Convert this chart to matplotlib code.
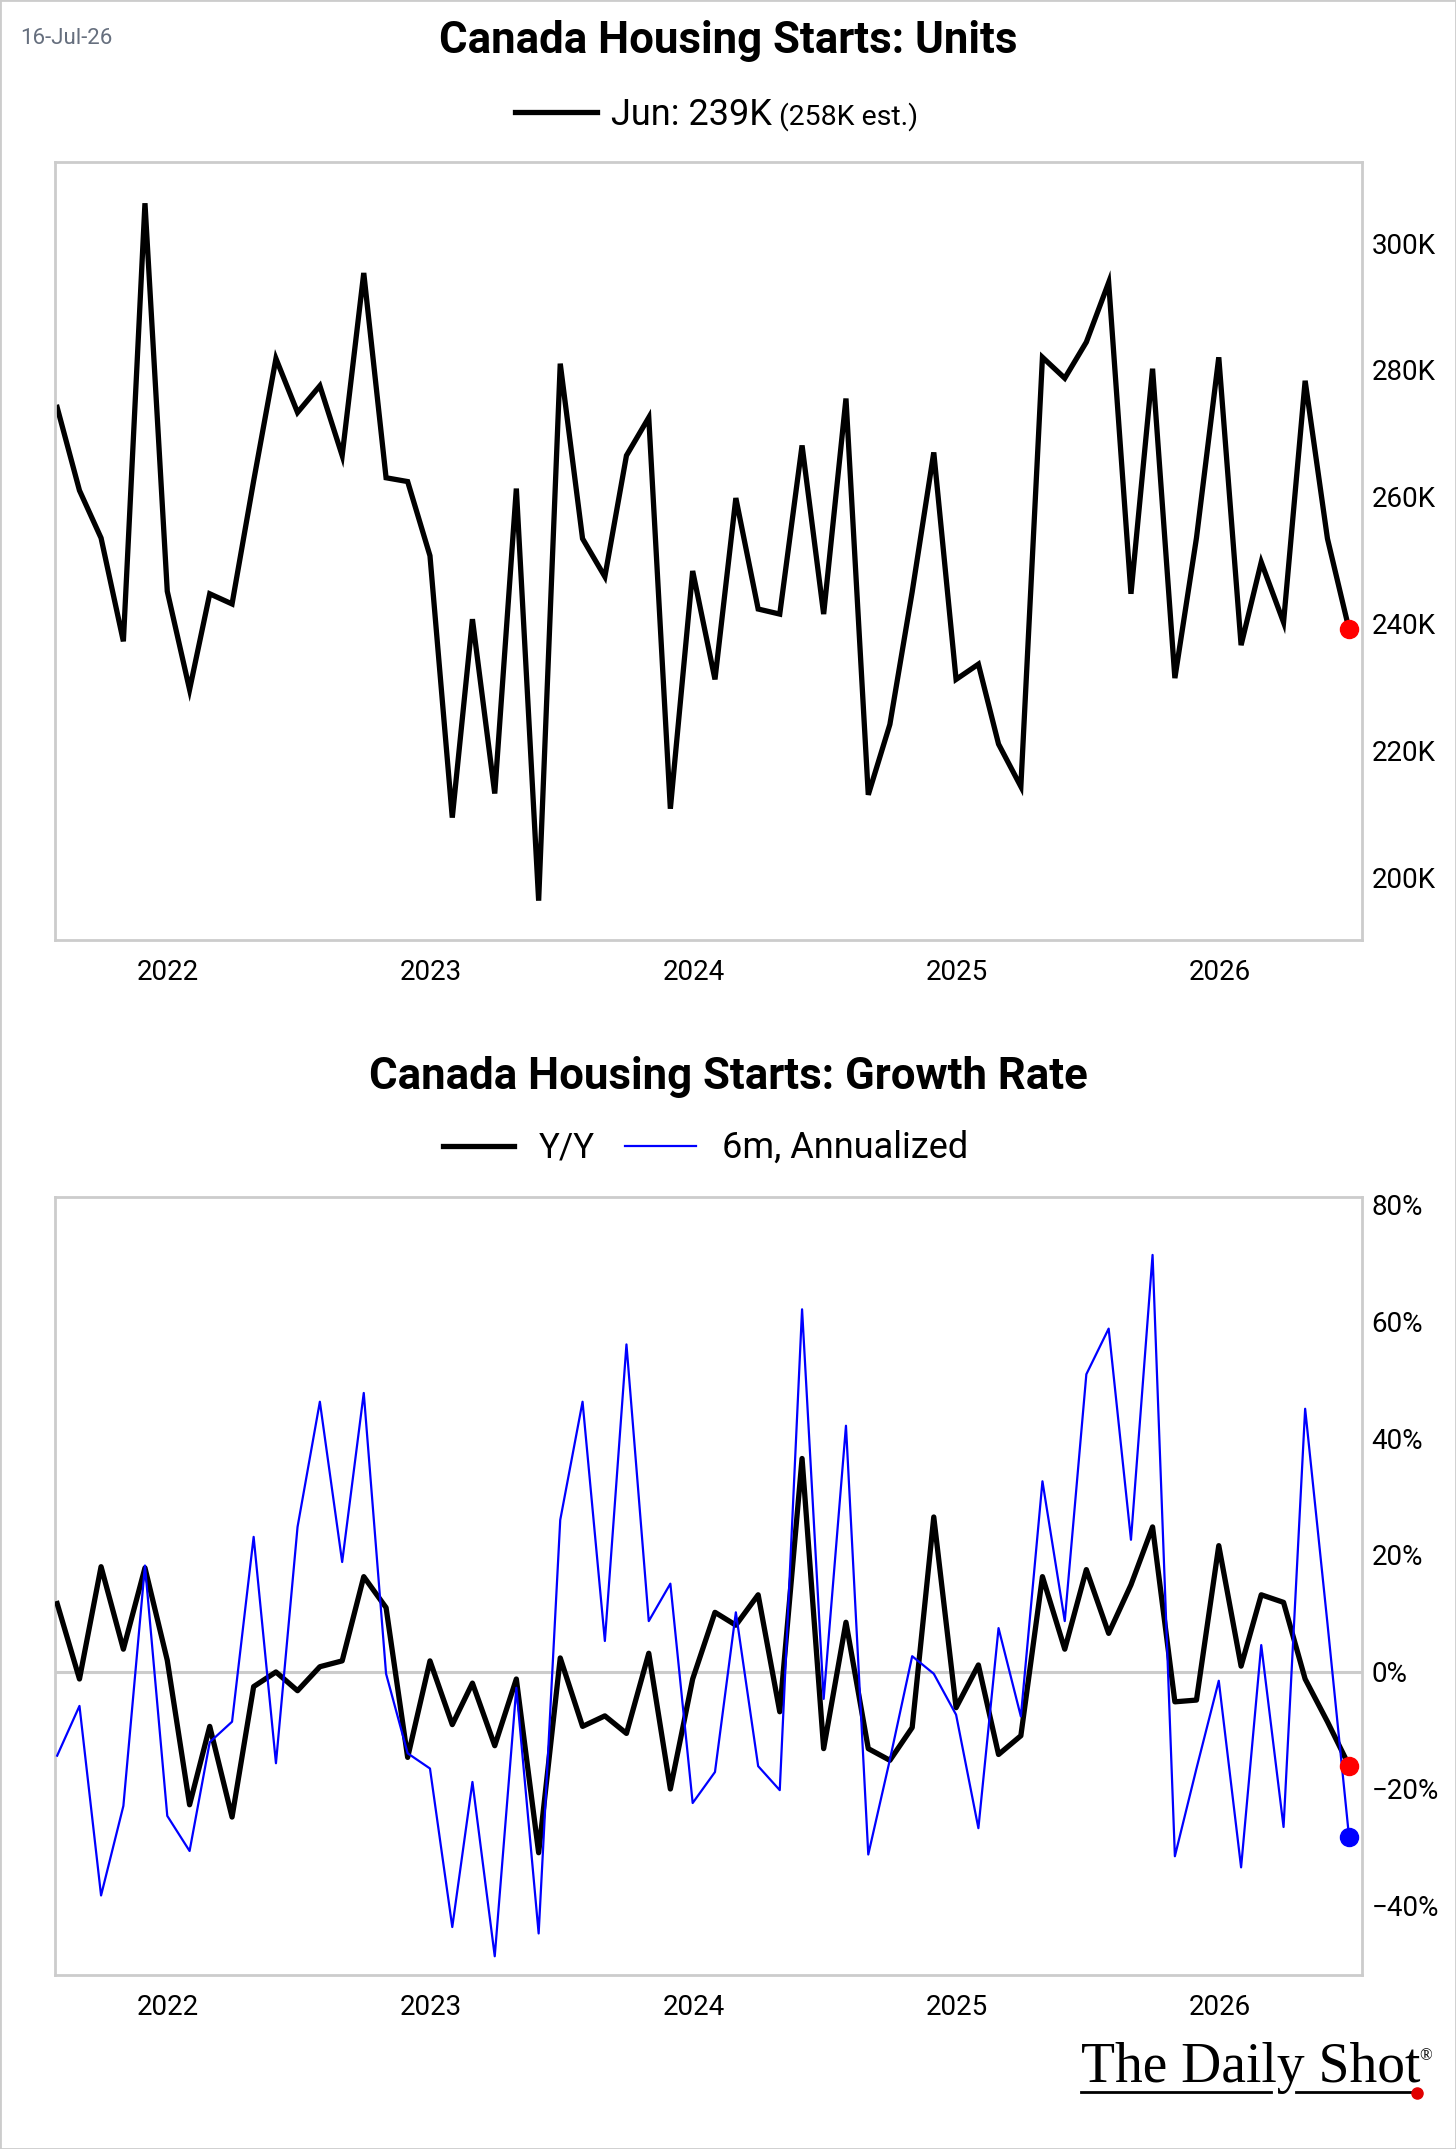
import numpy as np
import pandas as pd
import matplotlib
matplotlib.use('Agg')
import matplotlib.pyplot as plt
import matplotlib.dates as mdates
from matplotlib.lines import Line2D
from matplotlib.patches import Rectangle
from matplotlib.ticker import FuncFormatter, MultipleLocator

plt.rcParams['font.family'] = ['Roboto', 'DejaVu Sans']

# monthly, plotted at month end: Jul-2021 .. Jun-2026
dates = pd.date_range('2021-07-31', periods=60, freq='ME')

# housing starts, thousands of units (SAAR)
units = [274.1, 261.0, 253.5, 237.2, 306.3, 245.1, 229.6, 244.7, 243.1, 262.5,
         281.8, 273.3, 277.5, 266.5, 295.3, 263.0, 262.4, 250.7, 209.4, 240.7,
         213.2, 261.3, 196.3, 281.0, 253.4, 247.4, 266.5, 272.5, 210.8, 248.3,
         231.2, 259.8, 242.3, 241.5, 268.1, 241.5, 275.5, 213.0, 224.1, 245.0,
         267.0, 231.2, 233.6, 221.0, 214.3, 282.0, 278.7, 284.4, 293.8, 244.7,
         280.2, 231.4, 253.5, 282.0, 236.6, 249.7, 240.2, 278.3, 253.4, 239.1]

# growth rates, %
yoy = [11.7, -1.2, 18.0, 3.9, 17.8, 2.0, -22.7, -9.3, -24.8, -2.5,
       0.0, -3.2, 0.9, 1.9, 16.3, 11.0, -14.6, 1.9, -9.0, -1.9,
       -12.6, -1.2, -30.9, 2.4, -9.3, -7.5, -10.5, 3.2, -20.0, -1.2,
       10.2, 8.0, 13.2, -6.8, 36.5, -13.1, 8.5, -13.1, -15.1, -9.5,
       26.5, -6.1, 1.2, -14.1, -10.9, 16.3, 3.9, 17.5, 6.6, 14.9,
       24.8, -5.1, -4.8, 21.6, 1.0, 13.2, 11.9, -1.2, -8.5, -16.0]

ann6m = [-14.3, -5.8, -38.2, -22.9, 18.2, -24.6, -30.6, -12.0, -8.5, 23.1,
         -15.6, 24.8, 46.2, 18.8, 47.7, -0.3, -13.9, -16.5, -43.6, -18.8,
         -48.6, -2.7, -44.7, 26.0, 46.2, 5.3, 56.0, 8.7, 15.1, -22.4,
         -17.1, 10.2, -16.1, -20.2, 62.0, -4.6, 42.1, -31.2, -15.0, 2.7,
         -0.3, -7.3, -26.7, 7.5, -7.6, 32.6, 8.7, 50.9, 58.7, 22.6,
         71.3, -31.5, -16.5, -1.5, -33.4, 4.6, -26.5, 45.0, 8.3, -28.2]

W, H = 1456, 2149
fig = plt.figure(figsize=(W / 100, H / 100), dpi=100)


def fx(px):
    return px / W


def fy(py):
    return 1 - py / H


def style_axes(ax):
    for s in ax.spines.values():
        s.set_color('#cccccc')
        s.set_linewidth(2)
    ax.yaxis.tick_right()
    ax.tick_params(axis='both', length=0, labelsize=20, colors='black')
    ax.tick_params(axis='x', pad=14)
    ax.tick_params(axis='y', pad=7)
    ax.xaxis.set_major_locator(mdates.YearLocator())
    ax.xaxis.set_major_formatter(mdates.DateFormatter('%Y'))
    ax.set_xlim(dates[0] - pd.Timedelta(days=3), dates[-1] + pd.Timedelta(days=18))


# --- top panel: units ---
ax1 = fig.add_axes([fx(55), fy(940), fx(1362) - fx(55), (940 - 162) / H])
ax1.plot(dates, units, color='black', lw=3.8, solid_joinstyle='miter')
ax1.plot(dates[-1], units[-1], 'o', color='red', ms=13, zorder=5)
ax1.set_ylim(190.1, 312.8)
ax1.yaxis.set_major_locator(MultipleLocator(20))
ax1.yaxis.set_major_formatter(FuncFormatter(lambda v, p: f'{v:.0f}K'))
style_axes(ax1)

# --- bottom panel: growth ---
ax2 = fig.add_axes([fx(55), fy(1975), fx(1362) - fx(55), (1975 - 1197) / H])
ax2.axhline(0, color='#cccccc', lw=2.2, zorder=1)
ax2.plot(dates, yoy, color='black', lw=3.8, zorder=3)
ax2.plot(dates, ann6m, color='#0000ff', lw=1.6, zorder=4)
ax2.plot(dates[-1], yoy[-1], 'o', color='red', ms=13, zorder=6)
ax2.plot(dates[-1], ann6m[-1], 'o', color='#0000ff', ms=13, zorder=6)
ax2.set_ylim(-51.8, 81.2)
ax2.yaxis.set_major_locator(MultipleLocator(20))
ax2.yaxis.set_major_formatter(FuncFormatter(lambda v, p: f'{v:.0f}%'.replace('-', '\u2212')))
style_axes(ax2)

# --- titles, legends, stamps ---
fig.text(fx(20), fy(44), '16-Jul-26', fontsize=16, color='#666f7e', va='baseline')
fig.text(fx(728), fy(53), 'Canada Housing Starts: Units', fontsize=31.5,
         fontweight='bold', ha='center', va='baseline')
fig.add_artist(Line2D([fx(515), fx(597)], [fy(112), fy(112)], color='black', lw=3.8))
fig.text(fx(611), fy(125), 'Jun: 239K', fontsize=26, va='baseline')
fig.text(fx(779), fy(125), '(258K est.)', fontsize=20.5, va='baseline')

fig.text(fx(728), fy(1089), 'Canada Housing Starts: Growth Rate', fontsize=31.5,
         fontweight='bold', ha='center', va='baseline')
fig.add_artist(Line2D([fx(443), fx(514)], [fy(1146), fy(1146)], color='black', lw=3.8))
fig.text(fx(539), fy(1158), 'Y/Y', fontsize=25, va='baseline')
fig.add_artist(Line2D([fx(625), fx(696)], [fy(1146), fy(1146)], color='#0000ff', lw=1.6))
fig.text(fx(722), fy(1158), '6m, Annualized', fontsize=26, va='baseline')

# logo
serif = ['Liberation Serif', 'DejaVu Serif']
fig.text(fx(1081), fy(2082), 'The Daily Shot', fontsize=40, family=serif, va='baseline')
fig.text(fx(1419), fy(2060), '\u00ae', fontsize=12, family=serif, va='baseline')
fig.add_artist(Line2D([fx(1081), fx(1271)], [fy(2092), fy(2092)], color='black', lw=2))
fig.add_artist(Line2D([fx(1296), fx(1413)], [fy(2092), fy(2092)], color='black', lw=2))
fig.add_artist(Line2D([fx(1417)], [fy(2093)], marker='o', color='#e00000', ms=8, lw=0))

fig.add_artist(Rectangle((0, 0), 1, 1, transform=fig.transFigure, fill=False,
                         edgecolor='#cccccc', lw=2))

fig.savefig('out.png', dpi=100)
